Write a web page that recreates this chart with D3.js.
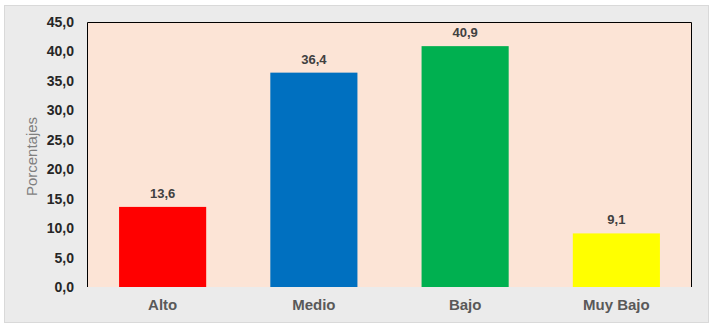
<!DOCTYPE html>
<html>
<head>
<meta charset="utf-8">
<script src="https://cdn.jsdelivr.net/npm/d3@7"></script>
<style>
	body { margin: 0; background: #fff; }
	svg { display: block; font-family: Arial, "Liberation Sans", sans-serif; }
	.tick line, .domain { display: none; }
</style>
</head>
<body>
<svg class="chart" width="715" height="328"></svg>
<script>
const categories = ['Alto', 'Medio', 'Bajo', 'Muy Bajo'];
const values = [13.6, 36.4, 40.9, 9.1];
const barColors = ['#ff0000', '#0070c0', '#00b050', '#ffff00'];
const yTicks = [0, 5, 10, 15, 20, 25, 30, 35, 40, 45];

const fmt = v => v.toFixed(1).replace('.', ',');

function startApp() {
	const margin = {top: 22, left: 87, bottom: 41, right: 23};
	const width = 715 - margin.left - margin.right;
	const height = 328 - margin.top - margin.bottom;
	const svg = d3.select('.chart');

	svg.append('rect')
		.attr('x', 4.5).attr('y', 5.5)
		.attr('width', 704).attr('height', 317)
		.attr('fill', '#ebebeb')
		.attr('stroke', '#d9d9d9');

	const chart = svg.append('g')
		.attr('transform', `translate(${margin.left}, ${margin.top})`);

	const xScale = d3.scaleBand().domain(categories).range([0, width])
		.paddingInner(0.424).paddingOuter(0.212);
	const yScale = d3.scaleLinear().domain([0, 45]).range([height, 0]);

	chart.append('rect')
		.attr('width', width).attr('height', height)
		.attr('fill', '#fce4d6');

	chart.append('path')
		.attr('d', `M0.5,${height}V0.5H${width - 0.5}V${height}`)
		.attr('fill', 'none')
		.attr('stroke', '#000');

	chart.selectAll('.bar')
		.data(values)
		.enter()
			.append('rect')
			.attr('x', (d, i) => xScale(categories[i]))
			.attr('y', d => yScale(d))
			.attr('width', xScale.bandwidth())
			.attr('height', d => height - yScale(d))
			.attr('fill', (d, i) => barColors[i]);

	chart.selectAll('.val')
		.data(values)
		.enter()
			.append('text')
			.attr('x', (d, i) => xScale(categories[i]) + xScale.bandwidth() / 2)
			.attr('y', d => yScale(d) - 9)
			.attr('text-anchor', 'middle')
			.attr('font-size', 13)
			.attr('font-weight', 'bold')
			.attr('fill', '#404040')
			.text(fmt);

	const yAxis = d3.axisLeft(yScale).tickValues(yTicks).tickFormat(fmt).tickSize(0).tickPadding(13);
	chart.append('g')
		.call(yAxis)
		.selectAll('text')
		.attr('font-size', 14)
		.attr('font-weight', 'bold')
		.attr('fill', '#262626')
		.attr('font-family', 'Arial, "Liberation Sans", sans-serif');

	const xAxis = d3.axisBottom(xScale).tickSize(0).tickPadding(12);
	chart.append('g')
		.attr('transform', `translate(0, ${height})`)
		.call(xAxis)
		.selectAll('text')
		.attr('font-size', 15)
		.attr('font-weight', 'bold')
		.attr('fill', '#595959')
		.attr('font-family', 'Arial, "Liberation Sans", sans-serif');

	svg.append('text')
		.attr('transform', `translate(37, ${margin.top + height / 2 + 2}) rotate(-90)`)
		.attr('text-anchor', 'middle')
		.attr('font-size', 15)
		.attr('fill', '#7f7f7f')
		.text('Porcentajes');
}

window.onload = startApp;
</script>
</body>
</html>
